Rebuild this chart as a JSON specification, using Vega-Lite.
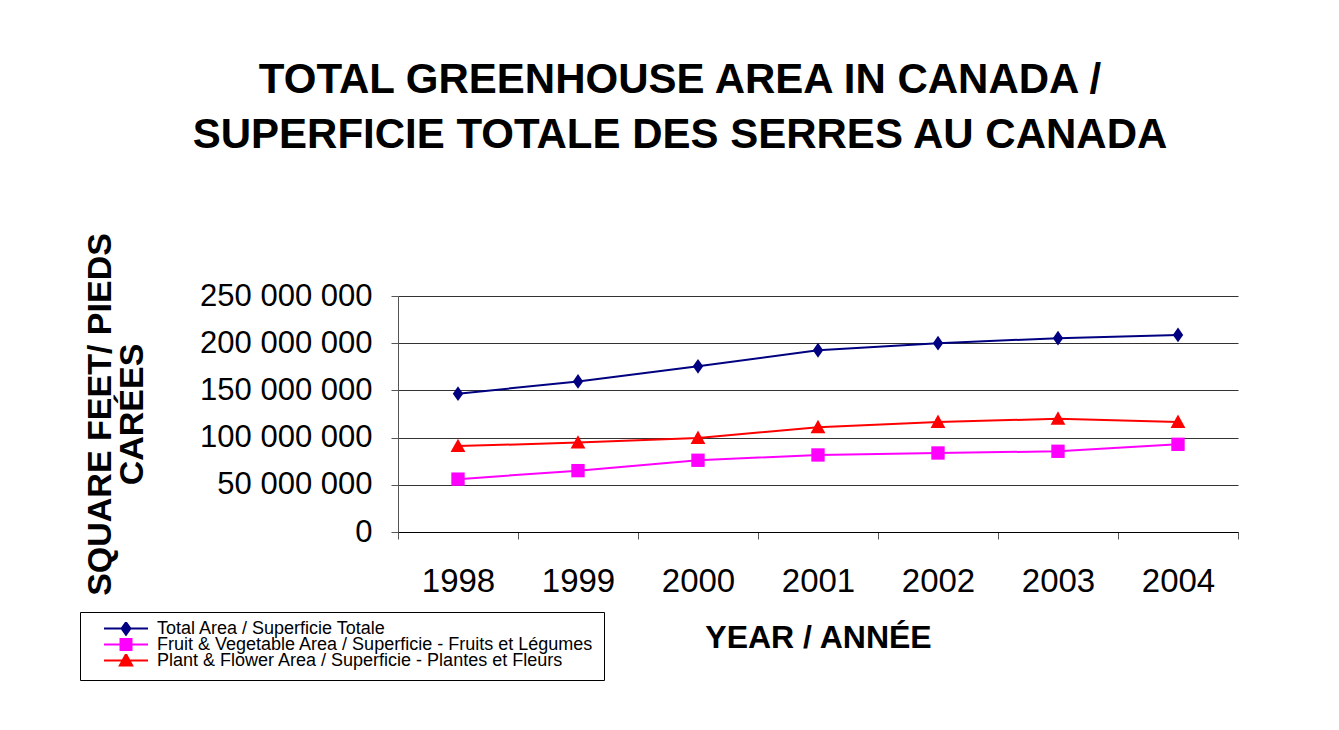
{
  "$schema": "https://vega.github.io/schema/vega-lite/v6.json",
  "width": 840,
  "height": 236,
  "autosize": {"type": "none"},
  "padding": {"left": 398, "top": 296, "right": 101, "bottom": 198},
  "background": "white",
  "config": {
    "font": "Liberation Sans",
    "view": {"stroke": null},
    "locale": {"number": {"decimal": ".", "thousands": " ", "grouping": [3], "currency": ["$", ""]}},
    "legend": {
      "orient": "none",
      "legendX": -318,
      "legendY": 316,
      "title": null,
      "direction": "vertical",
      "strokeColor": "black",
      "strokeWidth": 1,
      "padding": 10,
      "symbolSize": 1936,
      "clipHeight": 13,
      "rowPadding": -3,
      "symbolOffset": 13,
      "labelOffset": 8,
      "labelFontSize": 18,
      "labelColor": "black",
      "labelLimit": 600
    }
  },
  "title": {
    "text": ["TOTAL GREENHOUSE AREA IN CANADA /", "SUPERFICIE TOTALE DES SERRES AU CANADA"],
    "fontSize": 42,
    "fontWeight": "bold",
    "font": "Liberation Sans",
    "color": "black",
    "anchor": "middle",
    "frame": "group",
    "dx": -138,
    "offset": 76,
    "lineHeight": 55
  },
  "data": {
    "values": [
      {"year": "1998", "series": "Total Area / Superficie Totale", "value": 146500000},
      {"year": "1999", "series": "Total Area / Superficie Totale", "value": 159500000},
      {"year": "2000", "series": "Total Area / Superficie Totale", "value": 175500000},
      {"year": "2001", "series": "Total Area / Superficie Totale", "value": 192500000},
      {"year": "2002", "series": "Total Area / Superficie Totale", "value": 200000000},
      {"year": "2003", "series": "Total Area / Superficie Totale", "value": 205300000},
      {"year": "2004", "series": "Total Area / Superficie Totale", "value": 208800000},
      {"year": "1998", "series": "Fruit & Vegetable Area / Superficie - Fruits et Légumes", "value": 56000000},
      {"year": "1999", "series": "Fruit & Vegetable Area / Superficie - Fruits et Légumes", "value": 65000000},
      {"year": "2000", "series": "Fruit & Vegetable Area / Superficie - Fruits et Légumes", "value": 76000000},
      {"year": "2001", "series": "Fruit & Vegetable Area / Superficie - Fruits et Légumes", "value": 81600000},
      {"year": "2002", "series": "Fruit & Vegetable Area / Superficie - Fruits et Légumes", "value": 83700000},
      {"year": "2003", "series": "Fruit & Vegetable Area / Superficie - Fruits et Légumes", "value": 85500000},
      {"year": "2004", "series": "Fruit & Vegetable Area / Superficie - Fruits et Légumes", "value": 92900000},
      {"year": "1998", "series": "Plant & Flower Area / Superficie - Plantes et Fleurs", "value": 91000000},
      {"year": "1999", "series": "Plant & Flower Area / Superficie - Plantes et Fleurs", "value": 94700000},
      {"year": "2000", "series": "Plant & Flower Area / Superficie - Plantes et Fleurs", "value": 99600000},
      {"year": "2001", "series": "Plant & Flower Area / Superficie - Plantes et Fleurs", "value": 111000000},
      {"year": "2002", "series": "Plant & Flower Area / Superficie - Plantes et Fleurs", "value": 116500000},
      {"year": "2003", "series": "Plant & Flower Area / Superficie - Plantes et Fleurs", "value": 120000000},
      {"year": "2004", "series": "Plant & Flower Area / Superficie - Plantes et Fleurs", "value": 116500000}
    ]
  },
  "encoding": {
    "x": {
      "field": "year",
      "type": "ordinal",
      "scale": {"type": "band", "paddingInner": 0, "paddingOuter": 0},
      "axis": {
        "title": "YEAR / ANNÉE",
        "titleFontSize": 32,
        "titleFontWeight": "bold",
        "titleColor": "black",
        "titlePadding": 24,
        "labelAngle": 0,
        "labelFontSize": 33,
        "labelColor": "black",
        "labelPadding": 26,
        "tickBand": "extent",
        "tickSize": 7,
        "tickColor": "#555",
        "domainColor": "black",
        "grid": false
      }
    },
    "y": {
      "field": "value",
      "type": "quantitative",
      "scale": {"domain": [0, 250000000], "nice": false},
      "axis": {
        "values": [0, 50000000, 100000000, 150000000, 200000000, 250000000],
        "format": ",d",
        "title": ["SQUARE FEET/ PIEDS", "CARÉES"],
        "titleFontSize": 34,
        "titleFontWeight": "bold",
        "titleColor": "black",
        "titleLineHeight": 32,
        "titlePadding": 50,
        "labelFontSize": 31,
        "labelColor": "black",
        "labelPadding": 19,
        "tickSize": 7,
        "tickColor": "#555",
        "domainColor": "#555",
        "grid": true,
        "gridColor": "#333",
        "gridWidth": 1,
        "gridOpacity": 1
      }
    }
  },
  "layer": [
    {
      "mark": {"type": "line"},
      "encoding": {
        "stroke": {
          "field": "series",
          "type": "nominal",
          "scale": {
            "domain": ["Total Area / Superficie Totale", "Fruit & Vegetable Area / Superficie - Fruits et Légumes", "Plant & Flower Area / Superficie - Plantes et Fleurs"],
            "range": ["#000080", "#FF00FF", "#FF0000"]
          }
        },
        "strokeWidth": {
          "field": "series",
          "type": "nominal",
          "scale": {
            "domain": ["Total Area / Superficie Totale", "Fruit & Vegetable Area / Superficie - Fruits et Légumes", "Plant & Flower Area / Superficie - Plantes et Fleurs"],
            "range": [2, 2, 1.2]
          }
        }
      }
    },
    {
      "mark": {"type": "point", "filled": true, "size": 0, "opacity": 1},
      "encoding": {
        "fill": {
          "field": "series",
          "type": "nominal",
          "scale": {
            "domain": ["Total Area / Superficie Totale", "Fruit & Vegetable Area / Superficie - Fruits et Légumes", "Plant & Flower Area / Superficie - Plantes et Fleurs"],
            "range": ["#000080", "#FF00FF", "#FF0000"]
          }
        },
        "shape": {
          "field": "series",
          "type": "nominal",
          "scale": {
            "domain": ["Total Area / Superficie Totale", "Fruit & Vegetable Area / Superficie - Fruits et Légumes", "Plant & Flower Area / Superficie - Plantes et Fleurs"],
            "range": ["M-1,0H1M0,-0.28L0.2,0L0,0.28L-0.2,0Z", "M-1,0H1M-0.25,-0.25H0.25V0.25H-0.25Z", "M-1,0H1M0,-0.29L0.28,0.23H-0.28Z"]
          }
        }
      }
    },
    {
      "transform": [{"filter": "datum.series == 'Total Area / Superficie Totale'"}],
      "mark": {"type": "point", "filled": true, "opacity": 1, "size": 220, "color": "#000080", "shape": "M0,-1L0.7,0L0,1L-0.7,0Z"}
    },
    {
      "transform": [{"filter": "indexof(datum.series, 'Fruit') == 0"}],
      "mark": {"type": "point", "filled": true, "opacity": 1, "size": 220, "color": "#FF00FF", "shape": "M-0.9,-0.9H0.9V0.9H-0.9Z"}
    },
    {
      "transform": [{"filter": "indexof(datum.series, 'Plant') == 0"}],
      "mark": {"type": "point", "filled": true, "opacity": 1, "size": 220, "color": "#FF0000", "shape": "M0,-1L1,0.8H-1Z"}
    }
  ]
}
